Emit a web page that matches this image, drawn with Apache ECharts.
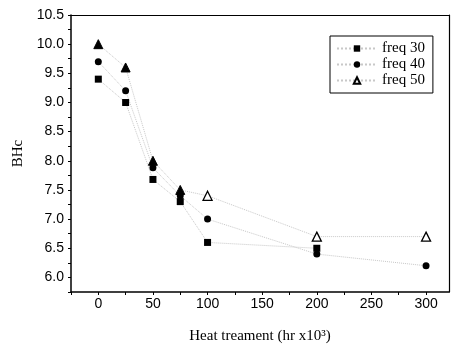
<!DOCTYPE html>
<html>
<head>
<meta charset="utf-8">
<script src="https://cdn.jsdelivr.net/npm/echarts@6/dist/echarts.min.js"></script>
<style>html,body{margin:0;padding:0;background:#fff}#c{width:453px;height:349px}</style>
</head>
<body>
<div id="c"></div>
<script>
const heat = [0, 25, 50, 75, 100, 200, 300];
const freq30 = [9.4, 9.0, 7.68, 7.3, 6.6, 6.5, null];
const freq40 = [9.7, 9.2, 7.88, 7.4, 7.0, 6.4, 6.2];
const freq50 = [10.0, 9.6, 8.0, 7.5, 7.4, 6.7, 6.7];
const seriesNames = ['freq 30', 'freq 40', 'freq 50'];
const xTickStep = 25, xLabelStep = 50;
const yTickStep = 0.25, yLabelStep = 0.5;

const chart = echarts.init(document.getElementById('c'), null, {renderer: 'canvas'});
const lineStyle = {type: 'dotted', color: '#c8c8c8', width: 1};
const pair = arr => arr.map((v, i) => [heat[i], v]);
const filledTri = {color: '#000', borderColor: '#000', borderWidth: 1};
const openTri = {color: '#fff', borderColor: '#000', borderWidth: 1.3};

const xLabelFmt = v => (v >= 0 && Math.abs(v / xLabelStep - Math.round(v / xLabelStep)) < 1e-6) ? String(Math.round(v)) : '';
const yLabelFmt = v => (Math.abs(v / yLabelStep - Math.round(v / yLabelStep)) < 1e-6) ? v.toFixed(1) : '';
const frameAxis = {
  axisLine: {show: true, onZero: false, lineStyle: {color: '#000', width: 1.2}},
  axisTick: {show: false}, axisLabel: {show: false}, splitLine: {show: false}
};

chart.setOption({
  animation: false,
  backgroundColor: '#fff',
  grid: {left: 71, right: 4, top: 15, bottom: 53, show: false},
  legend: {
    left: 330, top: 36, orient: 'vertical',
    padding: [5, 8, 5, 6], itemGap: 1, itemWidth: 40, itemHeight: 8,
    borderColor: '#000', borderWidth: 1, backgroundColor: '#fff',
    textStyle: {fontFamily: 'Liberation Serif', fontSize: 15, color: '#000'},
    data: seriesNames
  },
  xAxis: [{
    type: 'value', min: -25, max: 321, interval: xTickStep, position: 'bottom',
    name: 'Heat treament (hr x10³)', nameLocation: 'middle', nameGap: 37,
    nameTextStyle: {fontFamily: 'Liberation Serif', fontSize: 15, color: '#000'},
    axisLine: {show: true, onZero: false, lineStyle: {color: '#000', width: 1.5}},
    axisTick: {show: true, inside: false, length: 3, lineStyle: {color: '#000', width: 1}},
    axisLabel: {formatter: xLabelFmt, fontFamily: 'Liberation Sans', fontSize: 14, color: '#000', margin: 5, showMaxLabel: false},
    splitLine: {show: false}
  }, Object.assign({type: 'value', min: -25, max: 321, position: 'top'}, frameAxis)],
  yAxis: [{
    type: 'value', min: 5.75, max: 10.5, interval: yTickStep, position: 'left',
    name: 'BHc', nameLocation: 'middle', nameGap: 42, nameRotate: 90,
    nameTextStyle: {fontFamily: 'Liberation Serif', fontSize: 15, color: '#000'},
    axisLine: {show: true, onZero: false, lineStyle: {color: '#000', width: 1.5}},
    axisTick: {show: true, inside: false, length: 3, lineStyle: {color: '#000', width: 1}},
    axisLabel: {formatter: yLabelFmt, fontFamily: 'Liberation Sans', fontSize: 14, color: '#000', margin: 7},
    splitLine: {show: false}
  }, Object.assign({type: 'value', min: 5.75, max: 10.5, position: 'right'}, frameAxis)],
  series: [
    {name: seriesNames[0], type: 'line', data: pair(freq30), symbol: 'rect', symbolSize: 7,
     itemStyle: {color: '#000'}, lineStyle: lineStyle, z: 3},
    {name: seriesNames[1], type: 'line', data: pair(freq40), symbol: 'circle', symbolSize: 7,
     itemStyle: {color: '#000'}, lineStyle: lineStyle, z: 3},
    {name: seriesNames[2], type: 'line', symbol: 'triangle', symbolSize: 9,
     data: freq50.map((v, i) => ({value: [heat[i], v], itemStyle: i < 4 ? filledTri : openTri})),
     itemStyle: openTri, lineStyle: lineStyle, z: 3}
  ]
});
</script>
</body>
</html>
